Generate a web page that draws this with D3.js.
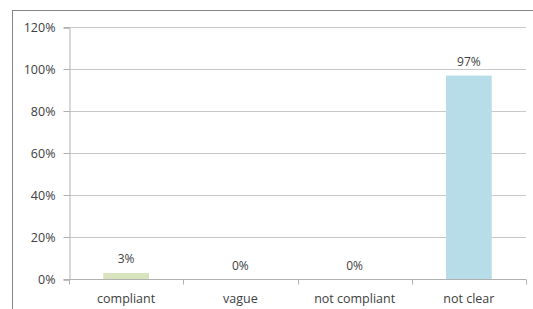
<!DOCTYPE html>
<html>
<head>
<meta charset="utf-8">
<script src="https://cdn.jsdelivr.net/npm/d3@7"></script>
<style>
  body { margin: 0; background: #fff; }
  svg text { font-family: "Open Sans", "Noto Sans", sans-serif; fill: #404040; }
</style>
</head>
<body>
<script>
var categories = ['compliant', 'vague', 'not compliant', 'not clear'];
var values = [3, 0, 0, 97];
var colors = ['#d7e4bd', '#d7e4bd', '#d7e4bd', '#b7dde8'];
var yTicks = [0, 20, 40, 60, 80, 100, 120];

var width = 533, height = 309;
var plotLeft = 69, plotRight = 526, plotTop = 27.3, plotBottom = 279.3;

var svg = d3.select('body').append('svg')
  .attr('width', width)
  .attr('height', height);

// chart border (only top and left edges fall inside the picture)
svg.append('rect')
  .attr('x', 12.5).attr('y', 10.5)
  .attr('width', 540).attr('height', 320)
  .attr('fill', 'none')
  .attr('stroke', '#868686');

var x = d3.scaleBand().domain(categories).range([plotLeft, plotRight]).paddingInner(0.6).paddingOuter(0.3);
var y = d3.scaleLinear().domain([0, 120]).range([plotBottom, plotTop]);

// gridlines
svg.append('g').selectAll('line').data(yTicks.slice(1)).enter().append('line')
  .attr('x1', plotLeft).attr('x2', plotRight)
  .attr('y1', function(d){ return Math.round(y(d)) + 0.5; })
  .attr('y2', function(d){ return Math.round(y(d)) + 0.5; })
  .attr('stroke', '#c8c8c8');

// y axis
var yAxis = svg.append('g')
  .attr('transform', 'translate(' + (plotLeft + 0.5) + ',0.5)')
  .call(d3.axisLeft(y).tickValues(yTicks).tickSize(6).tickPadding(8).tickFormat(function(d){ return d + '%'; }));
yAxis.select('.domain').attr('stroke', '#b0b0b0');
yAxis.selectAll('.tick line').attr('stroke', '#b0b0b0');
yAxis.selectAll('.tick').attr('transform', function(d){ return 'translate(0,' + Math.round(y(d)) + ')'; });
yAxis.selectAll('text').style('font-size', '12.5px').attr('fill', '#404040');

// bars
svg.append('g').selectAll('rect').data(values).enter().append('rect')
  .attr('x', function(d, i){ return x(categories[i]); })
  .attr('y', function(d){ return y(d); })
  .attr('width', x.bandwidth())
  .attr('height', function(d){ return plotBottom - y(d); })
  .attr('fill', function(d, i){ return colors[i]; });

// x axis
var xAxis = svg.append('g').attr('transform', 'translate(0,' + (Math.round(plotBottom) + 0.5) + ')');
xAxis.append('line').attr('x1', plotLeft).attr('x2', plotRight).attr('stroke', '#b0b0b0');
xAxis.selectAll('.tk').data(d3.range(categories.length + 1)).enter().append('line')
  .attr('x1', function(i){ return Math.round(plotLeft + i * x.step()) + 0.5; })
  .attr('x2', function(i){ return Math.round(plotLeft + i * x.step()) + 0.5; })
  .attr('y1', 0).attr('y2', 5)
  .attr('stroke', '#b0b0b0');
xAxis.selectAll('text').data(categories).enter().append('text')
  .attr('x', function(d){ return x(d) + x.bandwidth() / 2; })
  .attr('y', 19)
  .attr('dy', '0.35em')
  .attr('text-anchor', 'middle')
  .style('font-size', '12.5px')
  .text(function(d){ return d; });

// value labels
svg.append('g').selectAll('text').data(values).enter().append('text')
  .attr('x', function(d, i){ return x(categories[i]) + x.bandwidth() / 2; })
  .attr('y', function(d){ return y(d) - 14; })
  .attr('dy', '0.35em')
  .attr('text-anchor', 'middle')
  .style('font-size', '12px')
  .text(function(d){ return d + '%'; });
</script>
</body>
</html>
